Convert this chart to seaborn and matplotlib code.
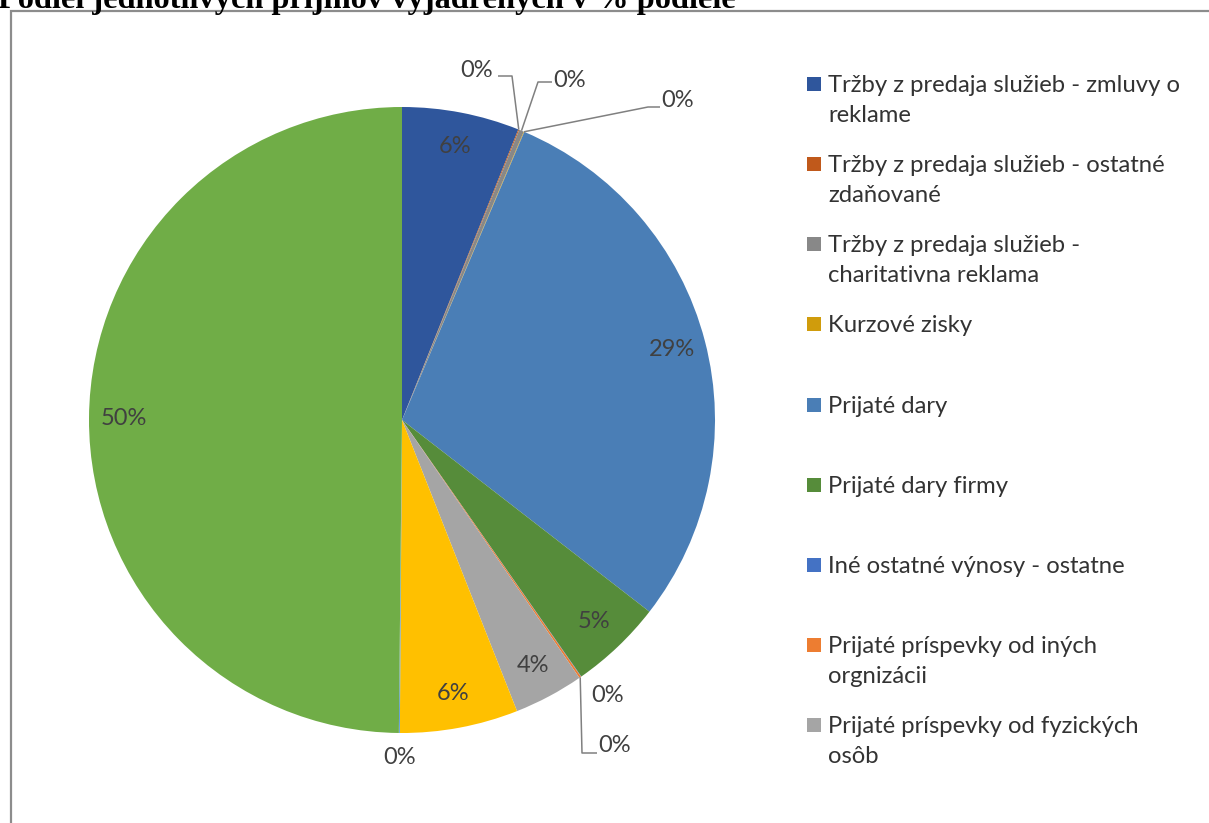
import numpy as np
import matplotlib
matplotlib.use("Agg")
import matplotlib.pyplot as plt
from matplotlib.patches import Rectangle
import seaborn as sns

sns.set_theme(style="white")
plt.rcParams['font.family'] = ['Lato', 'DejaVu Sans']

# ---- data ----
categories = [
    "Tržby z predaja služieb - zmluvy o\nreklame",
    "Tržby z predaja služieb - ostatné\nzdaňované",
    "Tržby z predaja služieb -\ncharitativna reklama",
    "Kurzové zisky",
    "Prijaté dary",
    "Prijaté dary firmy",
    "Iné ostatné výnosy - ostatne",
    "Prijaté príspevky od iných\norgnizácii",
    "Prijaté príspevky od fyzických\nosôb",
    "Položka 10",
    "Položka 11",
    "Položka 12",
]
shares = [6.06, 0.05, 0.25, 0.03, 29.1, 4.8, 0.02, 0.10, 3.6, 6.1, 0.05, 49.84]
colors = ["#2F569C", "#C0591B", "#888888", "#D09C0C", "#4A7EB6", "#568C3A",
          "#4472C4", "#ED7D31", "#A5A5A5", "#FFC000", "#5B9BD5", "#70AD47"]
legend_count = 9

W, H = 1209, 823
fig = plt.figure(figsize=(W / 100, H / 100), dpi=100)
ax = fig.add_axes([0, 0, 1, 1])

CX, CY, R = 402, 420, 313  # pie centre / radius in pixels

wedges, _ = ax.pie(shares, colors=colors, startangle=90, counterclock=False,
                   radius=1.0, wedgeprops=dict(linewidth=0))
ax.set_xlim(-CX / R, (W - CX) / R)
ax.set_ylim((CY - H) / R, CY / R)
ax.set_aspect('auto')
ax.axis('off')

def px(x, y):
    return ((x - CX) / R, (CY - y) / R)

txt_color = "#404040"
lab_fs = 17
total = sum(shares)
cum = np.cumsum([0] + shares[:-1])
mid_deg = [90 - 360 * (c + v / 2) / total for c, v in zip(cum, shares)]

# inside labels
for v, a in zip(shares, mid_deg):
    pct = round(100 * v / total)
    if v >= 1:
        t = np.deg2rad(a)
        ax.text(0.89 * np.cos(t), 0.89 * np.sin(t), f"{pct}%", ha="center",
                va="center", fontsize=lab_fs, color=txt_color)

# outside labels (small slices) : (slice index, label pos px, elbow points px)
outside = [
    (1, (477, 70), [(498, 76), (512, 76)]),
    (2, (570, 80), [(552, 82), (538, 82)]),
    (3, (678, 100), [(660, 107), (648, 107)]),
    (6, (608, 695), []),
    (7, (615, 745), [(597, 753), (582, 753)]),
    (10, (400, 757), []),
]
for idx, lpos, elbow in outside:
    pct = round(100 * shares[idx] / total)
    lx, ly = px(*lpos)
    ax.text(lx, ly, f"{pct}%", ha="center", va="center", fontsize=lab_fs,
            color=txt_color)
    if elbow:
        t = np.deg2rad(mid_deg[idx])
        pts = [px(*p) for p in elbow] + [(np.cos(t), np.sin(t))]
        xs, ys = zip(*pts)
        ax.plot(xs, ys, color="#808080", lw=1.1, solid_capstyle="butt")

# legend (first 9 entries, as in the source)
base0, step = 92, 80.15
for i in range(legend_count):
    b = base0 + step * i
    fig.add_artist(Rectangle((807 / W, 1 - (b - 1) / H), 14 / W, 14 / H,
                             transform=fig.transFigure, color=colors[i], lw=0))
    for j, line in enumerate(categories[i].split("\n")):
        fig.text(828 / W, 1 - (b + 30 * j) / H, line, ha="left", va="baseline",
                 fontsize=17.2, color="#333333")

# chart frame
fig.add_artist(Rectangle((10.5 / W, -0.1), 2, 1.1 - 11.5 / H,
                         transform=fig.transFigure, fill=False,
                         ec="#8c8c8c", lw=1.6))

# cut-off title
fig.text(-2 / W, 1 - 8 / H, "Podiel jednotlivých príjmov vyjadrených v % podiele",
         family="Liberation Serif", fontweight="bold", fontsize=23.3,
         color="black", ha="left", va="baseline")

fig.savefig("out.png", dpi=100)
